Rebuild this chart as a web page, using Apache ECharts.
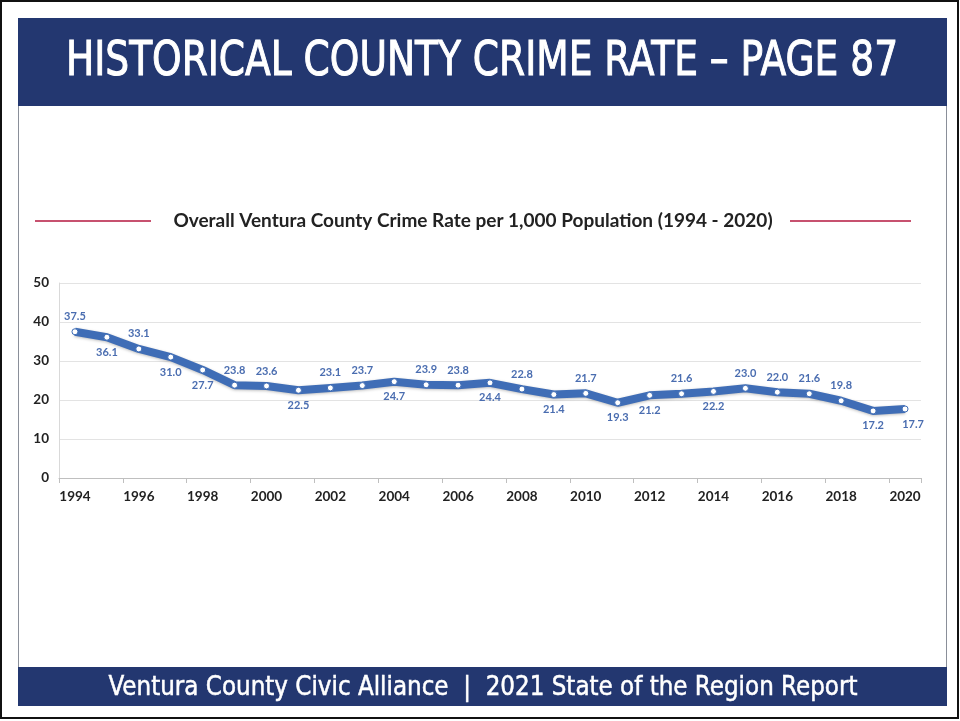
<!DOCTYPE html>
<html>
<head>
<meta charset="utf-8">
<script src="https://cdn.jsdelivr.net/npm/echarts@6/dist/echarts.min.js"></script>
<style>html,body{margin:0;padding:0;background:#fff;}#c{width:960px;height:721px;}</style>
</head>
<body>
<div id="c"></div>
<script>
const years = ['1994','1995','1996','1997','1998','1999','2000','2001','2002','2003','2004','2005','2006','2007','2008','2009','2010','2011','2012','2013','2014','2015','2016','2017','2018','2019','2020'];
const crimeRate = [37.5,36.1,33.1,31.0,27.7,23.8,23.6,22.5,23.1,23.7,24.7,23.9,23.8,24.4,22.8,21.4,21.7,19.3,21.2,21.6,22.2,23.0,22.0,21.6,19.8,17.2,17.7];
const yTicks = [0,10,20,30,40,50];
const headerText = 'HISTORICAL COUNTY CRIME RATE \u2013 PAGE 87';
const chartTitle = 'Overall Ventura County Crime Rate per 1,000 Population (1994 - 2020)';
const footerText = 'Ventura County Civic Alliance  |  2021 State of the Region Report';

const below = new Set(['1995','1997','1998','2001','2004','2007','2009','2011','2012','2014','2019','2020']);
const seriesData = crimeRate.map((v, i) => {
  const y = years[i];
  const d = { value: v, label: { position: below.has(y) ? 'bottom' : 'top' } };
  if (y === '2020') d.label.offset = [8, 0];
  return d;
});

const chart = echarts.init(document.getElementById('c'));
chart.setOption({
  animation: false,
  backgroundColor: '#fff',
  grid: { left: 59, right: 39, top: 283, bottom: 243 },
  xAxis: {
    type: 'category',
    data: years,
    boundaryGap: true,
    axisLine: { lineStyle: { color: '#bfbfbf' } },
    axisTick: { show: true, lineStyle: { color: '#bfbfbf' } },
    axisLabel: { interval: 1, margin: 12, color: '#222', fontFamily: 'Lato', fontWeight: 'bold', fontSize: 13.5 }
  },
  yAxis: {
    type: 'value', min: yTicks[0], max: yTicks[yTicks.length - 1], interval: 10,
    axisLine: { show: true, lineStyle: { color: '#d9d9d9' } },
    axisTick: { show: false },
    splitLine: { lineStyle: { color: '#e3e3e3' } },
    axisLabel: { margin: 10, color: '#222', fontFamily: 'Lato', fontWeight: 'bold', fontSize: 13.5 }
  },
  series: [{
    type: 'line',
    data: seriesData,
    symbol: 'circle',
    symbolSize: 6,
    lineStyle: { color: '#3F6DB6', width: 8, shadowColor: 'rgba(0,0,0,0.25)', shadowBlur: 3, shadowOffsetY: 1 },
    itemStyle: { color: '#ffffff', borderColor: '#3F6DB6', borderWidth: 1 },
    label: { show: true, distance: 6, color: '#4A6DB0', fontFamily: 'Lato', fontWeight: 'bold', fontSize: 11, formatter: p => p.value.toFixed(1) }
  }],
  graphic: [
    { type: 'rect', shape: { x: 1, y: 1, width: 957, height: 717 }, style: { fill: 'none', stroke: '#111', lineWidth: 2 }, z: 100 },
    { type: 'rect', shape: { x: 18.5, y: 18.5, width: 928, height: 687 }, style: { fill: 'none', stroke: '#8a8f99', lineWidth: 1 }, z: 100 },
    { type: 'rect', shape: { x: 18, y: 18, width: 929, height: 88 }, style: { fill: '#233770' }, z: 101 },
    { type: 'text', x: 482, y: 63, scaleX: 0.87, style: { text: headerText, fill: '#fff', stroke: '#fff', lineWidth: 1, font: '48px "DejaVu Sans Condensed", sans-serif', textAlign: 'center', textVerticalAlign: 'middle' }, z: 102 },
    { type: 'rect', shape: { x: 18, y: 667, width: 929, height: 39 }, style: { fill: '#233770' }, z: 101 },
    { type: 'text', x: 483, y: 688, scaleX: 0.95, style: { text: footerText, fill: '#fff', stroke: '#fff', lineWidth: 0.5, font: '27px "DejaVu Sans Condensed", sans-serif', textAlign: 'center', textVerticalAlign: 'middle' }, z: 102 },
    { type: 'line', shape: { x1: 35, y1: 221, x2: 151, y2: 221 }, style: { stroke: '#B5173F', lineWidth: 1.5 } },
    { type: 'line', shape: { x1: 790, y1: 221, x2: 911, y2: 221 }, style: { stroke: '#B5173F', lineWidth: 1.5 } },
    { type: 'text', x: 473, y: 221, style: { text: chartTitle, fill: '#222', font: 'bold 19px Lato', textAlign: 'center', textVerticalAlign: 'middle' } }
  ]
});
</script>
</body>
</html>
